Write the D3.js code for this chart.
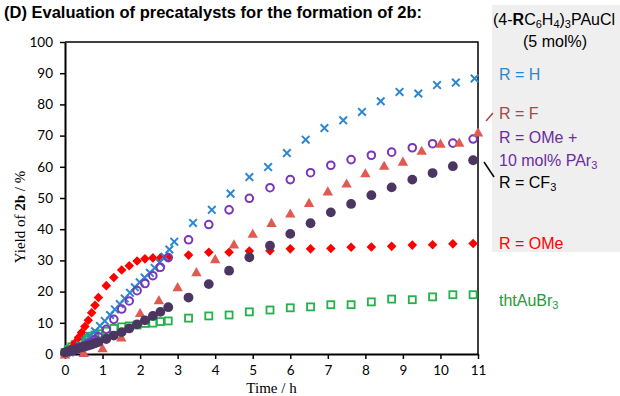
<!DOCTYPE html>
<html><head><meta charset="utf-8">
<script src="https://cdn.jsdelivr.net/npm/d3@7"></script>
<style>body{margin:0;background:#fff}svg{display:block}</style>
</head><body>
<svg id="chart" width="620" height="396"></svg>
<script>
// ---- data ----
const xTickValues = [0,1,2,3,4,5,6,7,8,9,10,11];
const yTickValues = [0,10,20,30,40,50,60,70,80,90,100];

// shared sampling times (h) for R = OMe, R = OMe + PAr3, R = CF3, thtAuBr3
const timeA = [0,0.09,0.18,0.27,0.36,0.44,0.53,0.62,0.71,0.80,0.89,1.10,1.30,1.51,1.71,1.92,2.13,2.34,2.54,2.75,
  3.29,3.83,4.37,4.91,5.46,6.00,6.54,7.08,7.62,8.16,8.70,9.25,9.79,10.33,10.87];
const yieldOMe = [0,0.8,2.0,3.6,5.3,6.9,8.8,10.8,13.2,15.6,18.1,21.9,24.5,26.9,28.3,29.8,30.5,30.8,30.8,31.0,
  31.7,32.6,32.6,33.0,33.1,33.7,33.7,33.8,34.2,34.3,34.5,34.9,35.0,35.3,35.4];
const yieldOMePAr3 = [0.3,0.6,1.0,1.4,1.8,2.2,2.7,3.2,3.8,4.6,5.5,7.9,11.1,14.4,17.0,20.3,22.6,25.1,27.8,30.9,
  36.6,41.5,46.2,49.9,53.3,55.9,58.1,60.5,62.3,63.7,64.7,66.1,67.4,67.6,68.9];
const yieldCF3 = [0.5,0.9,1.2,1.5,1.8,2.1,2.4,2.7,3.0,3.4,3.8,4.8,5.9,7.0,8.2,9.5,10.8,12.2,13.5,15.0,
  18.1,22.4,26.7,31.0,34.7,38.5,41.9,45.4,48.1,50.9,53.4,55.9,58.0,60.2,62.1];
const yieldTht = [0.5,1.5,2.3,3.0,3.6,4.1,4.6,5.1,5.7,6.1,6.5,7.3,8.2,8.7,9.0,9.3,9.8,9.9,10.4,10.6,
  11.5,12.2,12.5,13.5,14.1,14.8,15.1,15.8,15.8,16.7,17.6,17.4,18.3,19.0,19.0];

// R = H
const timeH = [0,0.13,0.27,0.40,0.53,0.66,0.80,0.93,1.06,1.20,1.33,1.46,1.59,1.73,1.86,1.99,2.12,2.26,2.39,2.52,2.65,2.78,2.91,
  3.41,3.91,4.41,4.91,5.41,5.91,6.41,6.91,7.41,7.91,8.41,8.91,9.41,9.91,10.41,10.91];
const yieldH = [0,0.5,1.5,2.8,4.2,5.8,7.3,9.0,10.6,12.5,14.3,16.0,17.8,19.6,21.4,23.0,24.5,26.0,27.6,29.3,31.2,33.5,36.0,
  42.0,46.2,51.4,56.7,59.9,64.4,68.7,72.4,74.9,77.6,81.0,84.0,83.5,86.2,87.0,88.3];

// R = F
const timeF = [0,0.5,1.0,1.5,2.0,2.5,3.0,3.5,4.0,4.5,5.0,5.5,6.0,6.5,7.0,7.5,8.0,8.5,9.0,9.5,10.0,10.5,11.0];
const yieldF = [0,0.5,2.0,5.5,13.3,17.4,21.6,26.4,30.6,35.3,38.7,42.2,45.2,48.6,52.3,54.8,58.1,60.5,61.8,65.3,67.6,67.9,71.2];

// ---- drawing ----
const svg = d3.select("#chart");
const plot = {left:65, right:478, top:42, bottom:354};
const x = d3.scaleLinear().domain([0,11]).range([plot.left, plot.right]);
const y = d3.scaleLinear().domain([0,100]).range([plot.bottom, plot.top]);

const C = {
  H:"#2b88d0", F:"#e05a52", FText:"#a34848", P:"#7b35b8", PText:"#6b2c9f",
  CF3:"#4a3660", OMe:"#ff0000", tht:"#22b24a", thtText:"#1e9b3a"
};

// legend background
svg.append("rect").attr("x",492).attr("y",5).attr("width",128).attr("height",247).attr("fill","#efefef");

// title
svg.append("text").attr("x",4).attr("y",18)
  .attr("font-family","'Liberation Sans',Arial,sans-serif").attr("font-weight","bold").attr("font-size",16.5)
  .attr("fill","#000").text("(D) Evaluation of precatalysts for the formation of 2b:");

// frame (top/right)
svg.append("path").attr("d",`M${plot.left},${plot.top}H${plot.right}V${plot.bottom}`)
  .attr("fill","none").attr("stroke","#000").attr("stroke-width",1.5);

// axes
const gx = svg.append("g").attr("transform",`translate(0,${plot.bottom})`)
  .call(d3.axisBottom(x).tickValues(xTickValues).tickSize(5).tickPadding(6).tickSizeOuter(0));
const gy = svg.append("g").attr("transform",`translate(${plot.left},0)`)
  .call(d3.axisLeft(y).tickValues(yTickValues).tickSize(5).tickPadding(7).tickSizeOuter(0));
[gx,gy].forEach(g=>{
  g.select(".domain").attr("stroke","#000").attr("stroke-width",2);
  g.selectAll(".tick line").attr("stroke","#000").attr("stroke-width",1.5);
  g.selectAll(".tick text").attr("font-family","Lato,'Liberation Sans',sans-serif").attr("font-size",13.5).attr("fill","#000");
});

// axis titles
svg.append("text").attr("x",(plot.left+plot.right)/2).attr("y",392.5).attr("text-anchor","middle")
  .attr("font-family","'Liberation Serif','Times New Roman',serif").attr("font-size",15).attr("fill","#000")
  .text("Time / h");
const yt = svg.append("text").attr("transform","translate(25,217) rotate(-90)").attr("text-anchor","middle")
  .attr("font-family","'Liberation Serif','Times New Roman',serif").attr("font-size",15).attr("fill","#000");
yt.append("tspan").text("Yield of ");
yt.append("tspan").attr("font-weight","bold").text("2b");
yt.append("tspan").text(" / %");

// markers
const zip = (ts, vs) => ts.map((t,i)=>({t, v:vs[i]}));
const layer = svg.append("g");

function squares(data,color){
  layer.append("g").selectAll("rect").data(data).join("rect")
    .attr("x",d=>x(d.t)-3.5).attr("y",d=>y(d.v)-3.5).attr("width",7).attr("height",7)
    .attr("fill","none").attr("stroke",color).attr("stroke-width",1.8);
}
function diamonds(data,color){
  layer.append("g").selectAll("path").data(data).join("path")
    .attr("d",d=>{const cx=x(d.t),cy=y(d.v),r=4.8;return `M${cx},${cy-r}L${cx+r},${cy}L${cx},${cy+r}L${cx-r},${cy}Z`;})
    .attr("fill",color);
}
function crosses(data,color){
  layer.append("g").selectAll("path").data(data).join("path")
    .attr("d",d=>{const cx=x(d.t),cy=y(d.v),r=3.8;return `M${cx-r},${cy-r}L${cx+r},${cy+r}M${cx-r},${cy+r}L${cx+r},${cy-r}`;})
    .attr("stroke",color).attr("stroke-width",2).attr("fill","none");
}
function rings(data,color){
  layer.append("g").selectAll("circle").data(data).join("circle")
    .attr("cx",d=>x(d.t)).attr("cy",d=>y(d.v)).attr("r",3.8)
    .attr("fill","none").attr("stroke",color).attr("stroke-width",2);
}
function triangles(data,color){
  layer.append("g").selectAll("path").data(data).join("path")
    .attr("d",d=>{const cx=x(d.t),cy=y(d.v),w=5.2,h=4.6;return `M${cx},${cy-h}L${cx+w},${cy+h}L${cx-w},${cy+h}Z`;})
    .attr("fill",color);
}
function dots(data,color){
  layer.append("g").selectAll("circle").data(data).join("circle")
    .attr("cx",d=>x(d.t)).attr("cy",d=>y(d.v)).attr("r",4.9).attr("fill",color);
}

squares(zip(timeA,yieldTht), C.tht);
diamonds(zip(timeA,yieldOMe), C.OMe);
crosses(zip(timeH,yieldH), C.H);
rings(zip(timeA,yieldOMePAr3), C.P);
triangles(zip(timeF,yieldF), C.F);
dots(zip(timeA,yieldCF3), C.CF3);

// legend
const lf = "'Liberation Sans',Arial,sans-serif";
function ltext(xp,yp,color,anchor){
  return svg.append("text").attr("x",xp).attr("y",yp).attr("font-family",lf).attr("font-size",16)
    .attr("fill",color).attr("text-anchor",anchor||"start");
}
const hdr = ltext(493,25,"#000");
hdr.append("tspan").text("(4-");
hdr.append("tspan").attr("font-weight","bold").text("R");
hdr.append("tspan").text("C");
hdr.append("tspan").attr("font-size",11).attr("dy",3).text("6");
hdr.append("tspan").attr("dy",-3).text("H");
hdr.append("tspan").attr("font-size",11).attr("dy",3).text("4");
hdr.append("tspan").attr("dy",-3).text(")");
hdr.append("tspan").attr("font-size",11).attr("dy",3).text("3");
hdr.append("tspan").attr("dy",-3).text("PAuCl");
ltext(555,47,"#000","middle").text("(5 mol%)");

ltext(499,80,C.H).text("R = H");
ltext(499,119,C.FText).text("R = F");
ltext(499,143,C.PText).text("R = OMe +");
const p2 = ltext(499,166,C.PText);
p2.append("tspan").text("10 mol% PAr");
p2.append("tspan").attr("font-size",11).attr("dy",3).text("3");
const cf = ltext(499,188,"#000");
cf.append("tspan").text("R = CF");
cf.append("tspan").attr("font-size",11).attr("dy",3).text("3");
ltext(499,249,C.OMe).text("R = OMe");
const th = ltext(499,306,C.thtText);
th.append("tspan").text("thtAuBr");
th.append("tspan").attr("font-size",11).attr("dy",3).text("3");

// leader lines
svg.append("line").attr("x1",486).attr("y1",121).attr("x2",493).attr("y2",113)
  .attr("stroke",C.FText).attr("stroke-width",1.5);
svg.append("line").attr("x1",484).attr("y1",162).attr("x2",494).attr("y2",177)
  .attr("stroke","#000").attr("stroke-width",1.5);
</script>
</body></html>
